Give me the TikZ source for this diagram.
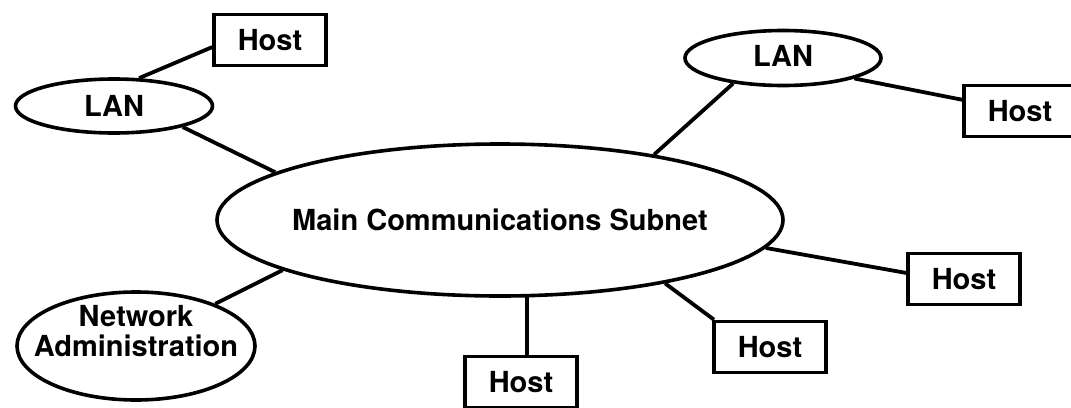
\documentclass[tikz,border=0pt]{standalone}
\usepackage{fontspec}
\setmainfont{TeX Gyre Heros}
\usetikzlibrary{shapes}

\begin{document}
\begin{tikzpicture}[x=1pt,y=-1pt]
          \tikzstyle{enode} = [line width=3.6pt, draw=black, ellipse, inner sep = 0pt, inner xsep=-25pt, align=center, font=\fontsize{29}{30}\selectfont\bfseries]
          \tikzstyle{tnode} = [inner sep = 0pt, align=center, font=\fontsize{29}{30}\selectfont\bfseries]
          \tikzstyle{hnode} = [line width=3.6pt, draw=black, rectangle, inner sep = 0pt, minimum width=112pt, minimum height=51pt, font=\fontsize{29}{30}\selectfont\bfseries]
          \tikzstyle{link} = [line width=3.8pt]
          \useasboundingbox (0,0) rectangle (1071,407);

          \node[enode, minimum width=566pt, minimum height=152pt] (subn) at (500,220) {Main Communications Subnet};
          \node[enode, minimum width=197pt, minimum height=54pt] (lanl) at (114,106) {LAN};
          \node[enode, minimum width=196pt, minimum height=55pt] (lanr) at (783,58) {\raisebox{4pt}{LAN}};
          \node[enode, minimum width=238pt, minimum height=108pt] (admn) at (136,346) {};
          \node[tnode] (admt) at (136,331) {Network\\Administration};

          \node[hnode] (hst1) at (270,40) {Host};
          \node[hnode] (hst2) at (1020,111) {Host};
          \node[hnode] (hst3) at (964,279) {Host};
          \node[hnode] (hst4) at (770,347) {Host};
          \node[hnode] (hst5) at (521,382) {Host};

          % links
          \draw[link] (lanl.48) -- (hst1.187);
          \draw[link] (lanl.-17) -- (subn.168);
          \draw[link] (subn.23) -- (lanr.207);
          \draw[link] (lanr.-16) -- (hst2.169);
          \draw[link] (subn.-6) -- (hst3.174);
          \draw[link] (subn.-21) -- (hst4.154);
          \draw[link] (subn.-71) -- (subn.-71 |- hst5.north);
          \draw[link] (subn.193) -- (admn.28);
        \end{tikzpicture}
\end{document}
